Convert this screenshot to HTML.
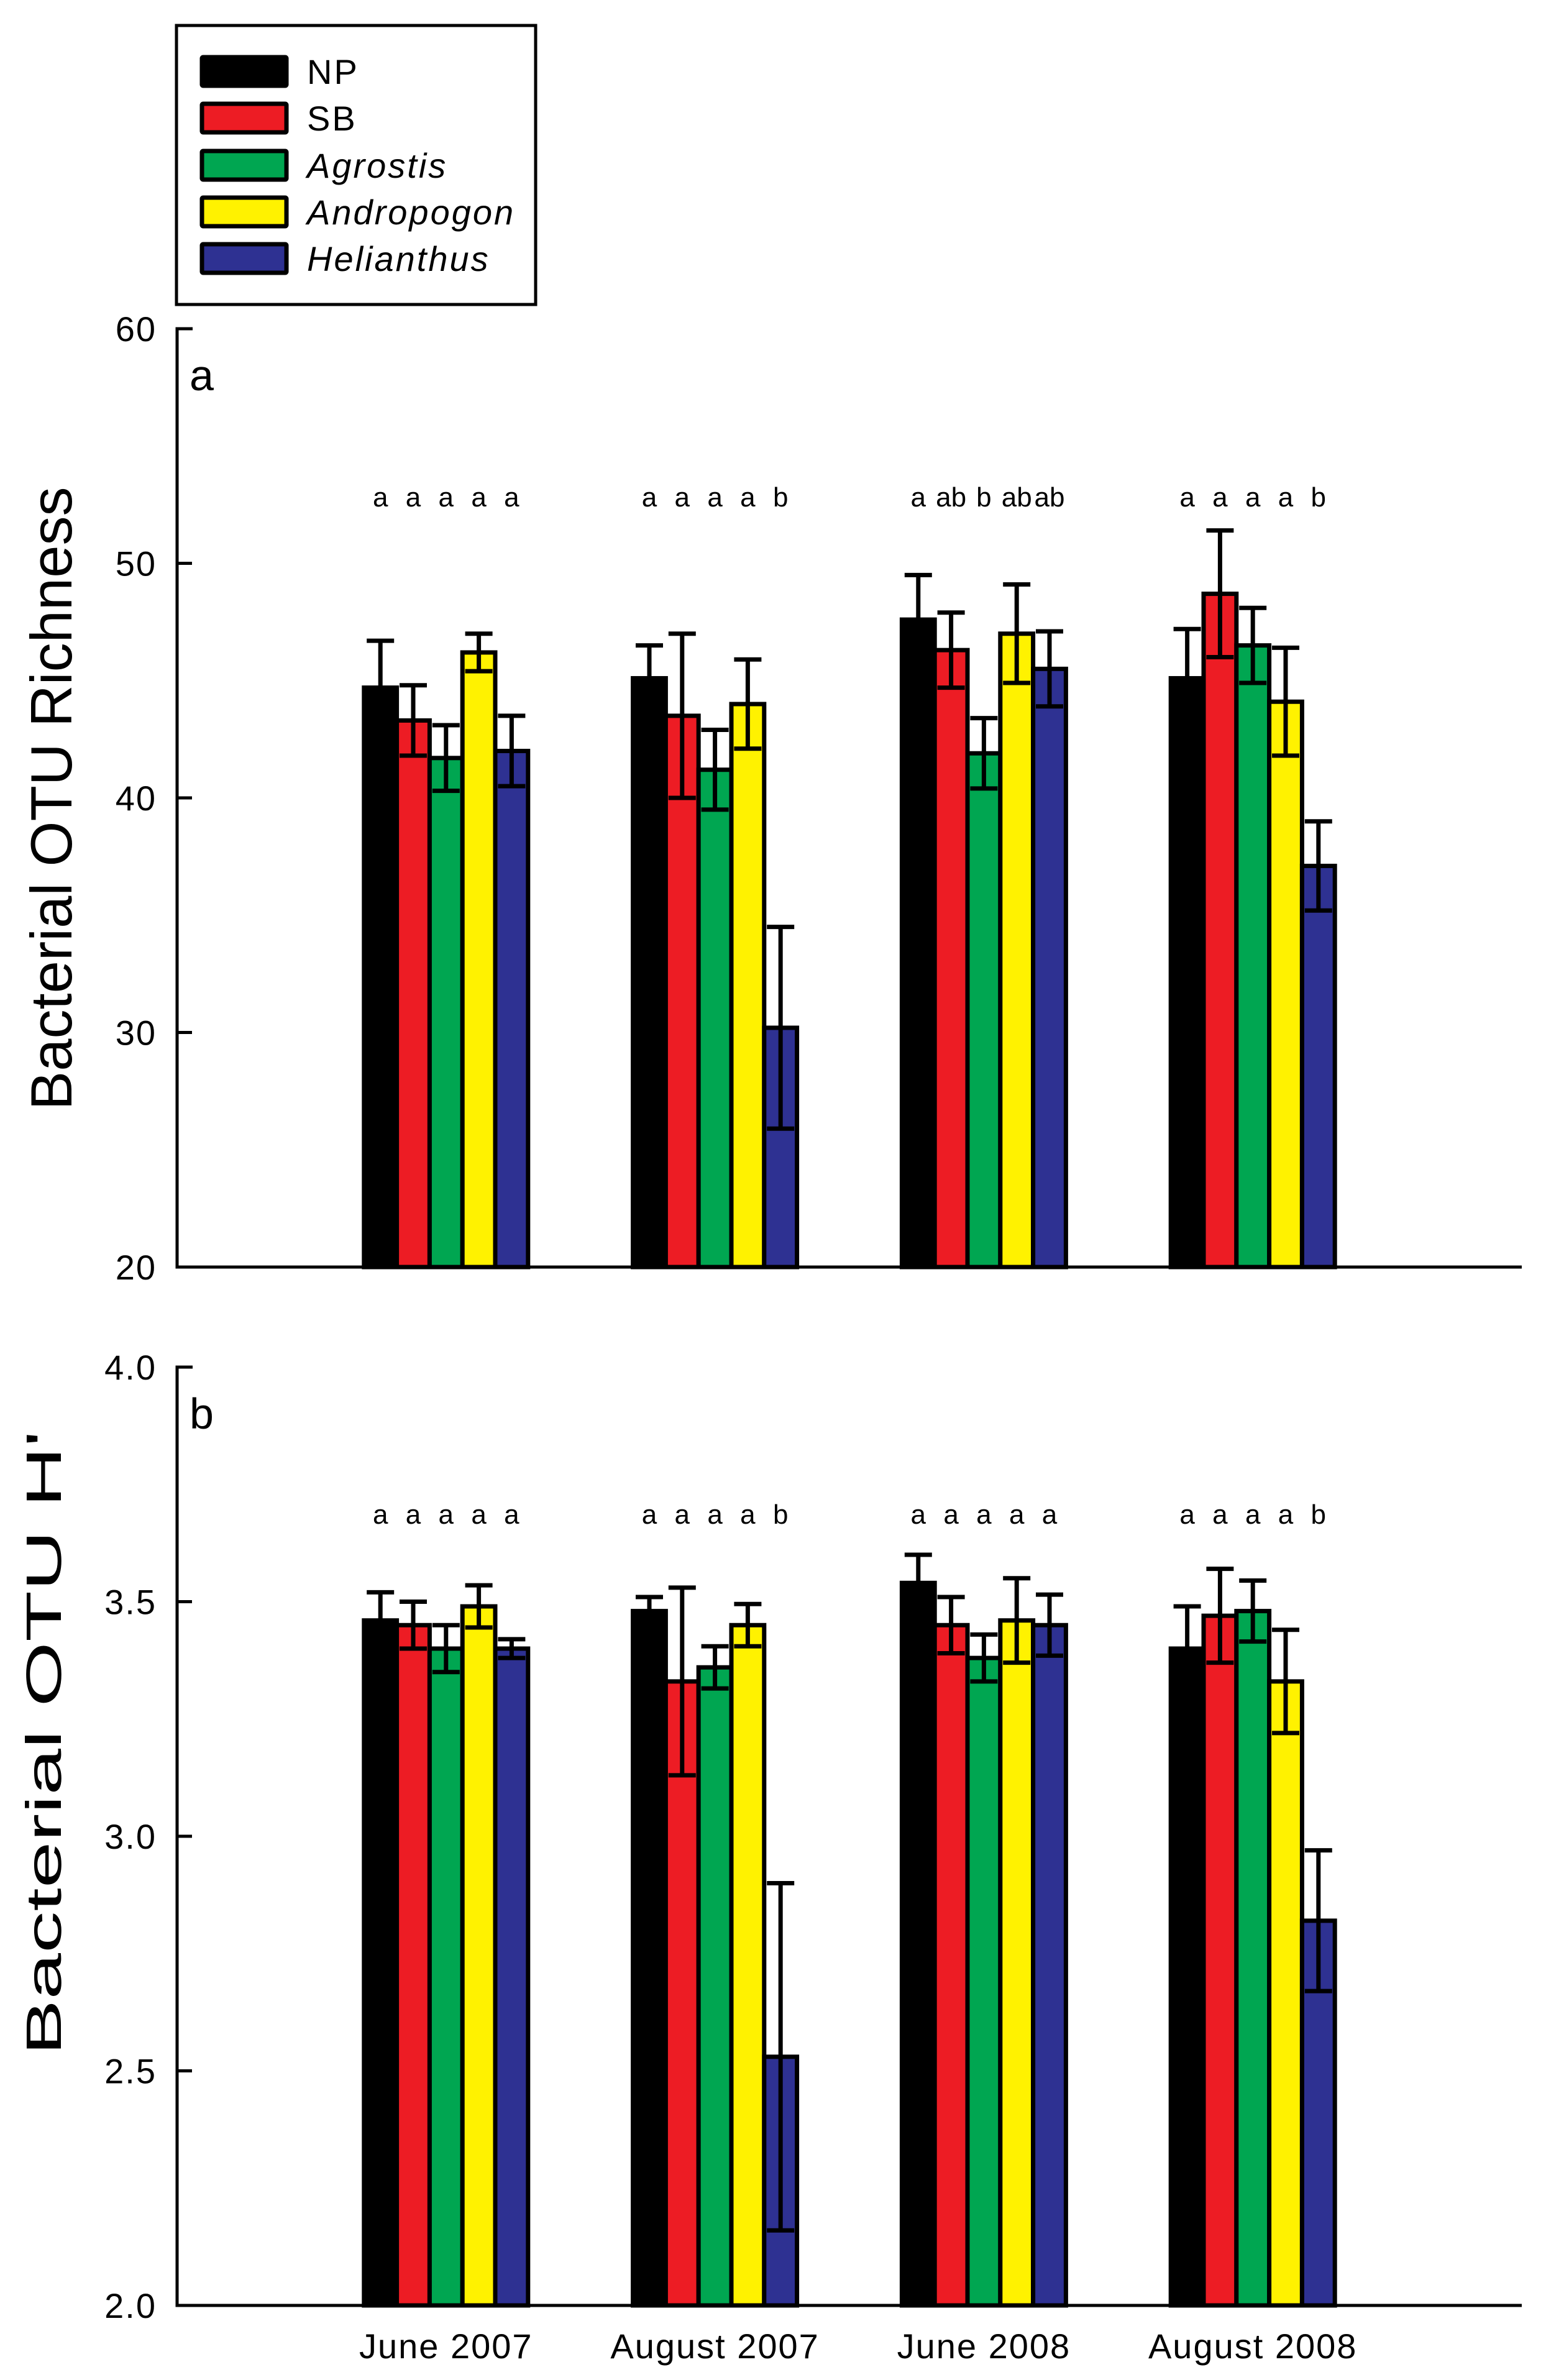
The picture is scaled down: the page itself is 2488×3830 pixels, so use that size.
<!DOCTYPE html>
<html><head><meta charset="utf-8"><style>html,body{margin:0;padding:0;background:#fff}svg{display:block}</style></head>
<body>
<svg id="chart" width="2488" height="3830" xmlns="http://www.w3.org/2000/svg" font-family="'Liberation Sans', Arial, sans-serif">
<rect width="2488" height="3830" fill="#fff"/>
<g>
<rect x="284" y="41" width="578" height="449" fill="#fff" stroke="#000" stroke-width="5"/>
</g>
</svg>
<script>
const categories = ["June 2007","August 2007","June 2008","August 2008"];
const seriesNames = ["NP","SB","Agrostis","Andropogon","Helianthus"];
const seriesItalic = [false,false,true,true,true];
const seriesColors = ["#000000","#ED1C24","#00A651","#FFF200","#2E3192"];
const richnessMean = [[44.7,43.3,41.7,46.2,42.0],[45.1,43.5,41.2,44.0,30.2],[47.6,46.3,41.9,47.0,45.5],[45.1,48.7,46.5,44.1,37.1]];
const richnessErr = [[2.0,1.5,1.4,0.8,1.5],[1.4,3.5,1.7,1.9,4.3],[1.9,1.6,1.5,2.1,1.6],[2.1,2.7,1.6,2.3,1.9]];
const shannonMean = [[3.46,3.45,3.40,3.49,3.40],[3.48,3.33,3.36,3.45,2.53],[3.54,3.45,3.38,3.46,3.45],[3.40,3.47,3.48,3.33,2.82]];
const shannonErr = [[0.06,0.05,0.05,0.045,0.02],[0.03,0.20,0.045,0.045,0.37],[0.06,0.06,0.05,0.09,0.065],[0.09,0.10,0.065,0.11,0.15]];
const richnessLetters = [["a","a","a","a","a"],["a","a","a","a","b"],["a","ab","b","ab","ab"],["a","a","a","a","b"]];
const shannonLetters = [["a","a","a","a","a"],["a","a","a","a","b"],["a","a","a","a","a"],["a","a","a","a","b"]];
const richnessTicks = [20,30,40,50,60];
const richnessTickLabels = ["20","30","40","50","60"];
const shannonTicks = [2.0,2.5,3.0,3.5,4.0];
const shannonTickLabels = ["2.0","2.5","3.0","3.5","4.0"];

const NS="http://www.w3.org/2000/svg";
const svg=document.getElementById('chart');
function el(tag,attrs,parent){const e=document.createElementNS(NS,tag);for(const k in attrs)e.setAttribute(k,attrs[k]);(parent||svg).appendChild(e);return e;}

const legendY=[115,190,266,341,416];
seriesNames.forEach((n,i)=>{
  const g=el('g',{});
  
  
  el('rect',{x:325,y:legendY[i]-23,width:136,height:46,fill:seriesColors[i],stroke:'#000','stroke-width':7,rx:2},g);
  const t=el('text',{x:494,y:legendY[i]+20,'font-size':56,'letter-spacing':3,'font-style':seriesItalic[i]?'italic':'normal'},g);
  t.textContent=n;
});

const X0=285,X1=2449,slot=432.8,barW=52.8;
function xCenter(ci){return X0+(ci+1)*slot;}

function panel(p){
  const g=el('g',{});
  
  
  const yScale=v=>p.yBot-(v-p.min)/(p.max-p.min)*(p.yBot-p.yTop);
  categories.forEach((c,ci)=>{
    const cx=xCenter(ci);
    p.mean[ci].forEach((v,si)=>{
      const x=cx-2.5*barW+si*barW;
      const y=yScale(v);
      const r=el('rect',{x:x,y:y,width:barW,height:p.yBot-y,fill:seriesColors[si],stroke:'#000','stroke-width':7},g);
      
      
      const e=p.err[ci][si];
      const bx=x+barW/2, yt=yScale(v+e), yb=yScale(v-e);
      const eb=el('g',{stroke:'#000','stroke-width':7},g);
      
      
      el('line',{x1:bx,y1:yt,x2:bx,y2:yb},eb);
      el('line',{x1:bx-22,y1:yt,x2:bx+22,y2:yt},eb);
      el('line',{x1:bx-22,y1:yb,x2:bx+22,y2:yb},eb);
      const lt=el('text',{x:bx,y:p.letterY,'font-size':44,'text-anchor':'middle'},g);
      
      
      lt.textContent=p.letters[ci][si];
    });
  });
  const ax=el('path',{d:`M${X0+25},${p.yTop} H${X0} V${p.yBot} H${X1}`,fill:'none',stroke:'#000','stroke-width':5},g);
  
  
  p.ticks.forEach((t,i)=>{
    const y=yScale(t);
    el('line',{x1:X0,y1:y,x2:X0+24,y2:y,stroke:'#000','stroke-width':5},g);
    const tl=el('text',{x:252,y:y+20,'font-size':56,'letter-spacing':2,'text-anchor':'end'},g);
    
    
    tl.textContent=p.tickLabels[i];
  });
  const pl=el('text',{x:305,y:p.yTop+99,'font-size':70},g);
  
  
  pl.textContent=p.label;
  const attrs={x:p.titleX,y:p.titleY,'font-size':p.titleSize,'text-anchor':'middle',transform:`rotate(-90 ${p.titleX} ${p.titleY})`};
  if(p.titleLen){attrs.textLength=p.titleLen;attrs.lengthAdjust='spacingAndGlyphs';}
  const yt=el('text',attrs,g);
  
  
  yt.textContent=p.title;
}
panel({name:'panel-a-richness',mean:richnessMean,err:richnessErr,letters:richnessLetters,ticks:richnessTicks,tickLabels:richnessTickLabels,min:20,max:60,yTop:529,yBot:2039,letterY:815,label:'a',title:'Bacterial OTU Richness',titleX:115,titleY:1285,titleSize:94,titleLen:0});
panel({name:'panel-b-shannon',mean:shannonMean,err:shannonErr,letters:shannonLetters,ticks:shannonTicks,tickLabels:shannonTickLabels,min:2,max:4,yTop:2200,yBot:3710,letterY:2452,label:'b',title:"Bacterial OTU H'",titleX:98,titleY:2805,titleSize:80,titleLen:1005});
categories.forEach((c,ci)=>{
  const t=el('text',{x:xCenter(ci),y:3795,'font-size':56,'letter-spacing':2,'text-anchor':'middle'});
  
  
  t.textContent=c;
});
</script>
</body></html>
